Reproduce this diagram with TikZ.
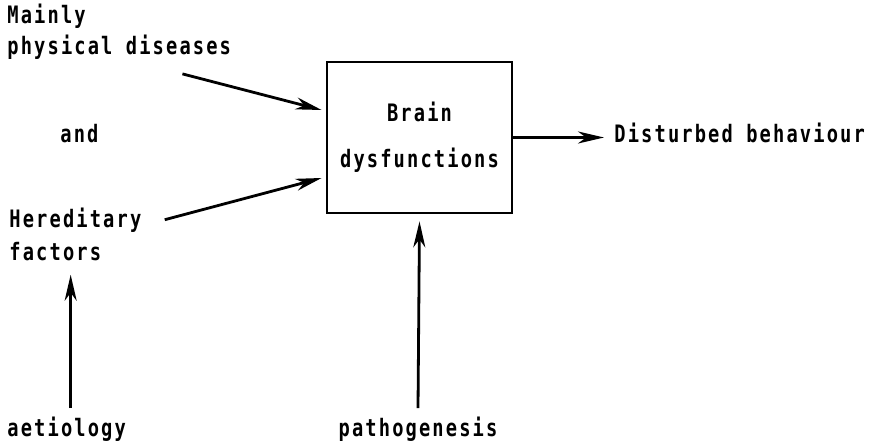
\documentclass[tikz,border=0pt]{standalone}
\usepackage{fontspec}
\setmonofont{DejaVu Sans Mono}[FakeStretch=0.78,LetterSpace=8.9]
\usetikzlibrary{arrows.meta}

\begin{document}
\begin{tikzpicture}[x=1pt,y=-1pt,line width=2.8pt,
        txt/.style={inner sep=0pt,font=\fontsize{24}{33}\ttfamily\bfseries},
        arr/.style={-{Stealth[length=26pt,width=12pt,inset=8pt]}}]
                \useasboundingbox (0,0) rectangle (874,446);
                \node[txt,anchor=base west] (mainly) at (6,24){Mainly};
                \node[txt,anchor=base west] (phys) at (6,55){physical diseases};
                \node[txt,anchor=base west] (and) at (59,143){and};
                \node[txt,anchor=base west] (here) at (8,227){Hereditary};
                \node[txt,anchor=base west] (fac) at (8,260){factors};
                \node[txt,anchor=base west] (aet) at (6,436){aetiology};
                \node[txt,anchor=base] (path) at (418,436){pathogenesis};
                \node[txt,draw,line width=2.8pt,align=center,minimum width=185pt,minimum height=151pt,font=\fontsize{24}{46}\ttfamily\bfseries] (box) at (419.5,137.5){Brain\\dysfunctions};
                \node[txt,anchor=base west] (dist) at (613,143){Disturbed behaviour};
                \draw[arr] ([xshift=-50pt,yshift=-12.5pt]phys.south east) -- ([xshift=-4pt,yshift=27.5pt]box.west);
                \draw[arr] ([xshift=22pt]here.east) -- ([xshift=-4pt,yshift=-40.5pt]box.west);
                \draw[arr] (box.east) -- ([xshift=-9pt]box.east -| dist.west);
                \draw[arr] ([yshift=7pt]path.north) -- ([yshift=-7pt]box.south);
                \draw[arr] ([xshift=4pt,yshift=7pt]aet.north) -- ([xshift=4pt,yshift=-13pt]aet.north |- fac.south);
            \end{tikzpicture}
\end{document}
